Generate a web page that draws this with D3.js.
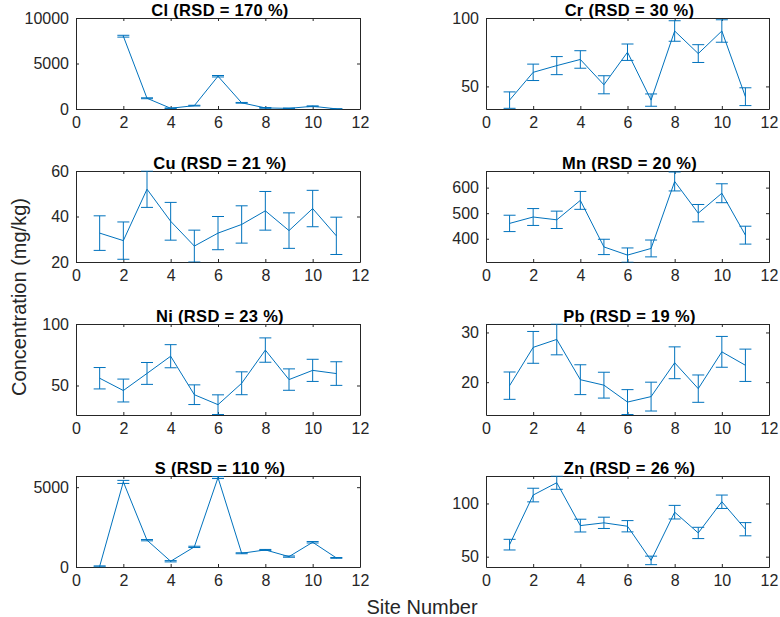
<!DOCTYPE html>
<html><head><meta charset="utf-8">
<script src="https://cdn.jsdelivr.net/npm/d3@7/dist/d3.min.js"></script>
<style>body{margin:0;background:#fff}svg{display:block}</style>
</head><body>
<svg id="chart" width="780" height="617"></svg>
<script>
// ---------------- data ----------------
const sites = [1,2,3,4,5,6,7,8,9,10,11];
const elements = ["Cl","Cr","Cu","Mn","Ni","Pb","S","Zn"];
const rsdPercent = [170,30,21,20,23,19,110,26];

const clMean = [null,8000,1180,80,370,3600,680,120,70,300,15];
const clErr  = [null,100,50,35,40,80,40,35,30,45,10];
const crMean = [40,60.3,65.2,69.7,51.2,75,40,90.5,74,90.5,42.5];
const crErr  = [6,6,6.6,6.4,6.6,6,4.5,7.5,6.5,8.2,6.5];
const cuMean = [32.7,29.4,52,37.9,27,32.7,36.5,42.5,33.8,43.5,31.5];
const cuErr  = [7.6,8.2,8,8.3,7,7.3,8.2,8.5,7.8,8,8.2];
const mnMean = [460,485,474,550,368,336,362,624,500,578,414];
const mnErr  = [32,33,34,35,30,28,33,37,34,37,35];
const niMean = [55.9,45.9,59.8,73.8,42.5,34.4,51.8,78.8,54.8,62.3,59.7];
const niErr  = [8.7,9.3,8.9,9.4,8,8,9.3,9.9,8.7,9,9.6];
const pbMean = [19.3,27,28.6,20.5,19.4,16,17.1,23.9,18.7,26.1,23.4];
const pbErr  = [2.75,3.2,3.1,3,2.6,2.5,2.9,3.2,2.75,3.1,3.25];
const sMean  = [40,5330,1680,360,1260,5600,860,1070,650,1550,570];
const sErr   = [30,95,40,40,40,60,30,30,40,45,25];
const znMean = [61.3,107.9,119.5,79.2,81.8,78.6,46.5,91.8,72.3,101.6,75.8];
const znErr  = [5,6.4,6.2,6,5.3,5.3,4,6.4,5.3,6.3,6.2];

const means = [clMean,crMean,cuMean,mnMean,niMean,pbMean,sMean,znMean];
const errs  = [clErr,crErr,cuErr,mnErr,niErr,pbErr,sErr,znErr];

const xLimits = [0,12];
const xTicks = [0,2,4,6,8,10,12];
const yLimits = [[0,10000],[33.5,100],[20,60],[309,665],[26,100],[13.4,31.7],[0,5700],[40.3,125.8]];
const yTicks  = [[0,5000,10000],[50,100],[20,40,60],[400,500,600],[50,100],[20,30],[0,5000],[50,100]];

const yLabel = "Concentration (mg/kg)";
const xLabel = "Site Number";

// ---------------- layout ----------------
const svg = d3.select("#chart");
const FONT = "'Liberation Sans', Arial, Helvetica, sans-serif";
const axCol = "#262626";
const lineCol = "#0072BD";
const colX = [[76,360],[486,769]];
const rowTop = [18,171,324,476];
const ph = 91;
const tickLen = 3;
const capHalf = 6;
const fmt = d3.format("d");

elements.forEach((el, i) => {
  const col = i % 2, row = Math.floor(i / 2);
  const [x0, x1] = colX[col];
  const y0 = rowTop[row], y1 = y0 + ph;
  const x = d3.scaleLinear().domain(xLimits).range([x0, x1]);
  const y = d3.scaleLinear().domain(yLimits[i]).range([y1, y0]);
  const g = svg.append("g");

  const clipId = "clip" + i;
  svg.append("clipPath").attr("id", clipId).append("rect")
    .attr("x", x0).attr("y", y0 - 0.5).attr("width", x1 - x0).attr("height", ph + 1);

  const bottom = d3.axisBottom(x).tickValues(xTicks).tickFormat(fmt).tickSizeInner(-tickLen).tickSizeOuter(0).tickPadding(8);
  const top = d3.axisTop(x).tickValues(xTicks).tickSizeInner(-tickLen).tickSizeOuter(0).tickFormat("");
  const left = d3.axisLeft(y).tickValues(yTicks[i]).tickFormat(fmt).tickSizeInner(-tickLen).tickSizeOuter(0).tickPadding(7);
  const right = d3.axisRight(y).tickValues(yTicks[i]).tickSizeInner(-tickLen).tickSizeOuter(0).tickFormat("");

  const axes = [
    g.append("g").attr("transform", `translate(0,${y1})`).call(bottom),
    g.append("g").attr("transform", `translate(0,${y0})`).call(top),
    g.append("g").attr("transform", `translate(${x0},0)`).call(left),
    g.append("g").attr("transform", `translate(${x1},0)`).call(right)
  ];
  axes.forEach(a => {
    a.select(".domain").attr("stroke", axCol).attr("stroke-width", 1);
    a.selectAll(".tick line").attr("stroke", axCol).attr("stroke-width", 1);
    a.selectAll(".tick text").attr("fill", axCol).attr("font-family", FONT).attr("font-size", 16);
  });

  const pts = sites.map((s, k) => ({s, m: means[i][k], e: errs[i][k]})).filter(d => d.m != null);
  const plot = g.append("g").attr("clip-path", `url(#${clipId})`);

  plot.append("path").datum(pts)
    .attr("d", d3.line().x(d => x(d.s)).y(d => y(d.m)))
    .attr("fill", "none").attr("stroke", lineCol).attr("stroke-width", 1);

  const eb = plot.selectAll(".eb").data(pts).enter().append("g").attr("stroke", lineCol).attr("stroke-width", 1);
  eb.append("line").attr("x1", d => x(d.s)).attr("x2", d => x(d.s))
    .attr("y1", d => y(d.m - d.e)).attr("y2", d => y(d.m + d.e));
  eb.append("line").attr("x1", d => x(d.s) - capHalf).attr("x2", d => x(d.s) + capHalf)
    .attr("y1", d => y(d.m + d.e)).attr("y2", d => y(d.m + d.e));
  eb.append("line").attr("x1", d => x(d.s) - capHalf).attr("x2", d => x(d.s) + capHalf)
    .attr("y1", d => y(d.m - d.e)).attr("y2", d => y(d.m - d.e));

  g.append("text").attr("x", (x0 + x1) / 2 + 2).attr("y", y0 - 2.5)
    .attr("text-anchor", "middle").attr("font-family", FONT).attr("font-weight", "bold")
    .attr("font-size", 16.5).attr("letter-spacing", 0.3).attr("fill", "#000")
    .text(`${el} (RSD = ${rsdPercent[i]} %)`);
});

svg.append("text").attr("transform", "translate(19,297) rotate(-90)")
  .attr("text-anchor", "middle").attr("dominant-baseline", "central")
  .attr("font-family", FONT).attr("font-size", 20).attr("fill", axCol).text(yLabel);
svg.append("text").attr("x", 422).attr("y", 614)
  .attr("text-anchor", "middle")
  .attr("font-family", FONT).attr("font-size", 20).attr("fill", axCol).text(xLabel);
</script>
</body></html>
